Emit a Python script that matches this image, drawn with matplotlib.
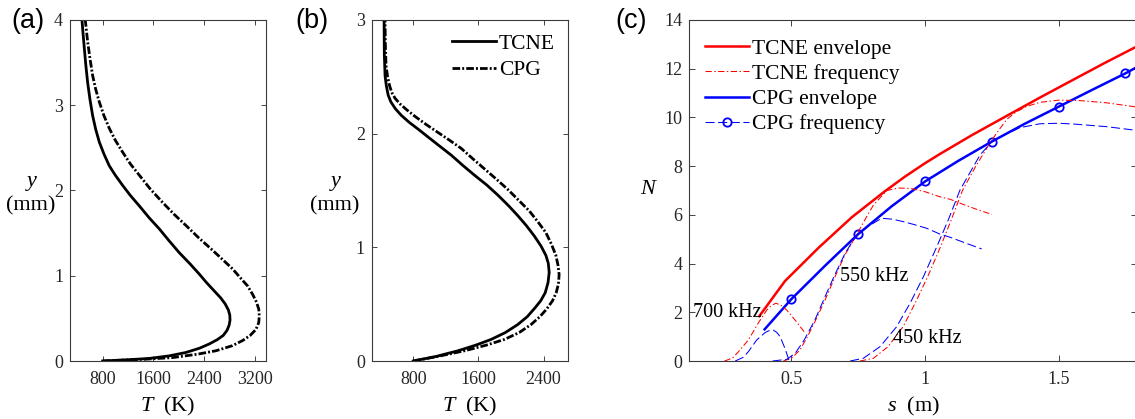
import matplotlib
matplotlib.use("Agg")
import matplotlib.pyplot as plt
from matplotlib.lines import Line2D

plt.rcParams['font.family'] = ['Liberation Serif', 'DejaVu Serif']
plt.rcParams['mathtext.fontset'] = 'custom'
plt.rcParams['mathtext.rm'] = 'Liberation Serif'
plt.rcParams['mathtext.it'] = 'Liberation Serif:italic'
plt.rcParams['lines.scale_dashes'] = False

# ---------------- data ----------------
# panel (a): temperature profiles, T (K) vs y (mm)
a_tcne_y = [0, 0.015, 0.03, 0.06, 0.10, 0.15, 0.20, 0.25, 0.30, 0.36, 0.42, 0.48, 0.54, 0.60, 0.67,
            0.74, 0.82, 0.92, 1.02, 1.14, 1.27, 1.41, 1.55, 1.68, 1.82, 1.94, 2.06, 2.18, 2.29,
            2.43, 2.57, 2.72, 2.88, 3.07, 3.27, 3.47, 3.67, 3.85, 4.0]
a_tcne_T = [800, 1200, 1537, 1850, 2116, 2330, 2484, 2610, 2705, 2765, 2798, 2812, 2808, 2785, 2735,
            2665, 2565, 2440, 2326, 2180, 2011, 1850, 1695, 1535, 1379, 1240, 1116, 1000, 905,
            820, 747, 690, 642, 600, 563, 535, 511, 490, 474]
a_cpg_y = [0, 0.02, 0.04, 0.08, 0.12, 0.18, 0.24, 0.30, 0.37, 0.45, 0.53, 0.61, 0.69, 0.78, 0.88,
           0.98, 1.08, 1.20, 1.31, 1.45, 1.59, 1.72, 1.86, 2.02, 2.18, 2.31, 2.45, 2.59, 2.73,
           2.88, 3.04, 3.19, 3.35, 3.55, 3.75, 4.0]
a_cpg_T = [800, 1450, 1905, 2300, 2589, 2850, 3011, 3130, 3221, 3265, 3274, 3265, 3230, 3170, 3090,
           2970, 2853, 2680, 2520, 2310, 2116, 1930, 1747, 1550, 1379, 1240, 1116, 1000, 905,
           820, 747, 690, 642, 600, 563, 526]

# panel (b)
b_tcne_y = [0, 0.04, 0.09, 0.14, 0.19, 0.25, 0.32, 0.39, 0.46, 0.53, 0.60, 0.69, 0.78, 0.86, 0.93,
            1.01, 1.10, 1.19, 1.28, 1.37, 1.46, 1.55, 1.63, 1.72, 1.81, 1.89, 1.97, 2.04, 2.10,
            2.16, 2.22, 2.28, 2.34, 2.42, 2.51, 2.70, 3.0]
b_tcne_T = [800, 1080, 1350, 1570, 1757, 1930, 2082, 2200, 2286, 2365, 2420, 2455, 2469, 2458, 2428,
            2370, 2286, 2190, 2082, 1965, 1838, 1700, 1560, 1410, 1268, 1125, 983, 860, 750,
            655, 580, 525, 492, 470, 454, 445, 442]
b_cpg_y = [0, 0.04, 0.09, 0.14, 0.19, 0.25, 0.32, 0.39, 0.46, 0.53, 0.60, 0.68, 0.76, 0.84, 0.93,
           1.03, 1.13, 1.22, 1.32, 1.41, 1.51, 1.60, 1.69, 1.78, 1.87, 1.94, 2.01, 2.08, 2.15,
           2.21, 2.26, 2.31, 2.36, 2.42, 2.50, 2.60, 2.80, 3.0]
b_cpg_T = [800, 1100, 1431, 1700, 1920, 2100, 2245, 2355, 2441, 2510, 2555, 2583, 2591, 2578, 2551,
           2495, 2428, 2335, 2225, 2100, 1960, 1820, 1675, 1530, 1390, 1250, 1105, 960, 825,
           720, 640, 578, 538, 510, 485, 466, 457, 454]

# panel (c): N-factor envelopes
tcne_env_s = [0.38, 0.476, 0.601, 0.726, 0.85, 0.925, 1.0, 1.056, 1.175, 1.30, 1.424, 1.555, 1.673, 1.79]
tcne_env_N = [1.84, 3.28, 4.64, 5.90, 6.97, 7.57, 8.12, 8.50, 9.27, 10.03, 10.78, 11.55, 12.24, 12.9]
cpg_env_s = [0.40, 0.5, 0.625, 0.75, 0.875, 1.0, 1.125, 1.25, 1.375, 1.5, 1.625, 1.75, 1.79]
cpg_env_N = [1.30, 2.54, 3.90, 5.21, 6.35, 7.37, 8.22, 9.01, 9.75, 10.44, 11.13, 11.81, 12.05]
cpg_marker_s = [0.5, 0.75, 1.0, 1.25, 1.5, 1.75]
cpg_marker_N = [2.54, 5.21, 7.37, 9.01, 10.44, 11.81]

# panel (c): single-frequency N curves, TCNE
t700_s = [0.25, 0.28, 0.302, 0.339, 0.376, 0.408, 0.425, 0.442, 0.46, 0.483, 0.514, 0.548]
t700_N = [0, 0.12, 0.38, 0.86, 1.55, 2.09, 2.28, 2.37, 2.30, 2.09, 1.68, 1.20]
t550_s = [0.47, 0.50, 0.532, 0.557, 0.588, 0.626, 0.663, 0.70, 0.732, 0.75, 0.782, 0.807, 0.857,
          0.90, 0.944, 1.0, 1.056, 1.094, 1.15, 1.20, 1.25]
t550_N = [0, 0.11, 0.45, 0.93, 1.61, 2.5, 3.45, 4.35, 4.95, 5.3, 5.93, 6.4, 7.0, 7.1, 7.09, 6.95,
          6.74, 6.64, 6.4, 6.2, 6.02]
t450_s = [0.757, 0.807, 0.862, 0.918, 0.963, 1.010, 1.058, 1.098, 1.14, 1.19, 1.243, 1.274, 1.306,
          1.34, 1.38, 1.43, 1.50, 1.58, 1.68, 1.79]
t450_N = [0, 0.11, 0.59, 1.41, 2.37, 3.46, 4.69, 5.79, 7.0, 8.0, 8.95, 9.45, 9.92, 10.22, 10.45,
          10.62, 10.71, 10.69, 10.6, 10.43]

# panel (c): single-frequency N curves, CPG
c700_s = [0.29, 0.32, 0.339, 0.37, 0.401, 0.415, 0.432, 0.445, 0.458, 0.476, 0.491]
c700_N = [0, 0.15, 0.38, 0.86, 1.16, 1.24, 1.27, 1.18, 1.0, 0.52, 0.04]
c550_s = [0.43, 0.483, 0.514, 0.548, 0.588, 0.626, 0.663, 0.70, 0.732, 0.75, 0.79, 0.838, 0.88,
          0.919, 0.96, 1.006, 1.056, 1.094, 1.15, 1.212]
c550_N = [0, 0.07, 0.31, 0.86, 1.68, 2.64, 3.55, 4.4, 4.97, 5.2, 5.55, 5.86, 5.82, 5.72, 5.6,
          5.45, 5.21, 5.08, 4.85, 4.6]
c450_s = [0.72, 0.769, 0.832, 0.894, 0.944, 0.994, 1.044, 1.087, 1.131, 1.206, 1.25, 1.306, 1.355,
          1.43, 1.5, 1.555, 1.68, 1.79]
c450_N = [0, 0.11, 0.59, 1.41, 2.37, 3.46, 4.69, 5.79, 7.02, 8.46, 9.0, 9.33, 9.58, 9.74, 9.76,
          9.73, 9.62, 9.47]

freq_labels = ['700 kHz', '550 kHz', '450 kHz']
freq_label_s = [0.132, 0.682, 0.881]
freq_label_N = [1.98, 3.46, 0.93]

# ---------------- figure ----------------
W, H = 1135, 419
fig = plt.figure(figsize=(W / 100, H / 100), dpi=100)


def box(x0, x1, y0=20, y1=361):
    return [x0 / W, 1 - y1 / H, (x1 - x0) / W, (y1 - y0) / H]


spine_col = '#3a3a3a'
TICK = 13
LAB = 16
LEG = 15.5


def style(ax, length=3.5):
    ax.tick_params(direction='in', top=True, right=True, length=length, width=0.6,
                   labelsize=TICK, colors='#262626')
    ax.tick_params(axis='x', pad=7)
    ax.tick_params(axis='y', pad=5)
    for sp in ax.spines.values():
        sp.set_color(spine_col)
        sp.set_linewidth(0.8)


dashdot_thick = (0, (5.5, 1.5, 1.4, 1.5))

# (a)
ax_a = fig.add_axes(box(70, 266))
ax_a.plot(a_tcne_T, a_tcne_y, color='k', lw=2.0)
ax_a.plot(a_cpg_T, a_cpg_y, color='k', lw=2.0, ls=dashdot_thick)
ax_a.set_xlim(285, 3380)
ax_a.set_ylim(0, 4)
ax_a.set_xticks([800, 1600, 2400, 3200])
ax_a.set_yticks([0, 1, 2, 3, 4])
style(ax_a)
ax_a.set_xlabel(r'$T$  (K)', fontsize=LAB, labelpad=5)

# (b)
ax_b = fig.add_axes(box(371.7, 568))
l1, = ax_b.plot(b_tcne_T, b_tcne_y, color='k', lw=2.0)
l2, = ax_b.plot(b_cpg_T, b_cpg_y, color='k', lw=2.0, ls=dashdot_thick)
ax_b.set_xlim(290, 2700)
ax_b.set_ylim(0, 3)
ax_b.set_xticks([800, 1600, 2400])
ax_b.set_yticks([0, 1, 2, 3])
style(ax_b)
ax_b.set_xlabel(r'$T$  (K)', fontsize=LAB, labelpad=5)
ax_b.legend([l1, l2], ['TCNE', 'CPG'], loc='upper left', frameon=False,
            bbox_to_anchor=(451.7 / W, 1 - 33.5 / H), bbox_transform=fig.transFigure,
            fontsize=LEG, handlelength=2.05, handletextpad=0.15, labelspacing=0.30,
            borderpad=0, borderaxespad=0)

# (c)
x0c, x1c = 689.3, 1137
ax_c = fig.add_axes(box(x0c, x1c))
red, blue = '#ff0000', '#0000ff'
rdd = (0, (4.5, 1.8, 1.0, 1.8))
bds = (0, (6.5, 2.6))
ax_c.plot(tcne_env_s, tcne_env_N, color=red, lw=1.8)
ax_c.plot(cpg_env_s, cpg_env_N, color=blue, lw=1.8)
ax_c.plot(cpg_marker_s, cpg_marker_N, ls='none', marker='o', ms=6, mfc='none',
          mec=blue, mew=1.3)
for s, n in [(t700_s, t700_N), (t550_s, t550_N), (t450_s, t450_N)]:
    ax_c.plot(s, n, color=red, lw=0.75, ls=rdd)
for s, n in [(c700_s, c700_N), (c550_s, c550_N), (c450_s, c450_N)]:
    ax_c.plot(s, n, color=blue, lw=0.75, ls=bds)
for txt, s, n in zip(freq_labels, freq_label_s, freq_label_N):
    ax_c.text(s, n, txt, fontsize=14.5, ha='left', va='center')

xl0 = 1 + (x0c - 925) / 267.3
xl1 = 1 + (x1c - 925) / 267.3
ax_c.set_xlim(xl0, xl1)
ax_c.set_ylim(0, 14)
ax_c.set_xticks([0.5, 1, 1.5])
ax_c.set_xticklabels(['0.5', '1', '1.5'])
ax_c.set_yticks([0, 2, 4, 6, 8, 10, 12, 14])
style(ax_c, length=4.5)
ax_c.set_xlabel(r'$s$  (m)', fontsize=LAB, labelpad=5)

h_c = [Line2D([], [], color=red, lw=1.8),
       Line2D([], [], color=red, lw=0.75, ls=rdd),
       Line2D([], [], color=blue, lw=1.8),
       Line2D([], [], color=blue, lw=0.75, ls=bds, marker='o', ms=6, mfc='none', mew=1.3)]
ax_c.legend(h_c, ['TCNE envelope', 'TCNE frequency', 'CPG envelope', 'CPG frequency'],
            loc='upper left', frameon=False,
            bbox_to_anchor=(705 / W, 1 - 38.5 / H), bbox_transform=fig.transFigure,
            fontsize=LEG, handlelength=2.05, handletextpad=0.15, labelspacing=0.24,
            borderpad=0, borderaxespad=0)

# y labels (two-line, horizontal)
for cx in (31, 335):
    fig.text((cx + 1) / W, 1 - 181 / H, 'y', fontsize=LAB, style='italic', ha='center', va='center')
    fig.text(cx / W, 1 - 206 / H, '(mm)', fontsize=LAB, ha='center', va='center')
fig.text(648 / W, 1 - 189 / H, 'N', fontsize=LAB, style='italic', ha='center', va='center')

# panel tags
for txt, x in [('(a)', 11), ('(b)', 295), ('(c)', 615)]:
    fig.text(x / W, 1 - 21 / H, txt, fontsize=19.5, family='Liberation Sans',
             ha='left', va='center')

fig.savefig('out.png', dpi=100)
